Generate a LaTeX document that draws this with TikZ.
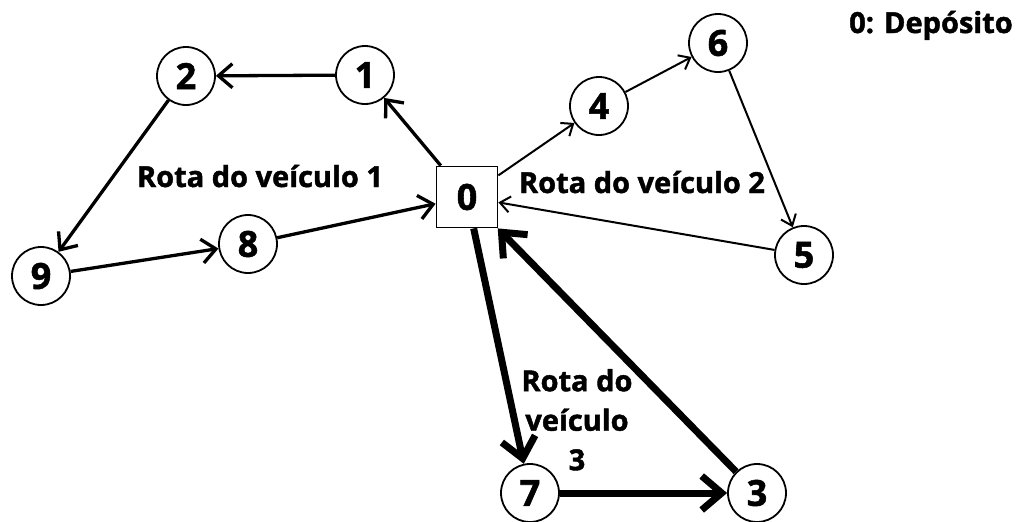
\documentclass[tikz,border=0pt]{standalone}
\usepackage{fontspec}
\setmainfont{Open Sans}[BoldFeatures={FakeBold=1.5}]
\usetikzlibrary{arrows.meta}
\begin{document}
\begin{tikzpicture}[x=1pt,y=-1pt,
  num/.style={circle,draw,line width=1.8pt,minimum size=58pt,inner sep=0pt,font=\fontsize{36}{36}\selectfont\bfseries},
  depot/.style={rectangle,draw,line width=1.8pt,minimum size=61pt,inner sep=0pt,font=\fontsize{36}{36}\selectfont\bfseries},
  lbl/.style={font=\fontsize{29}{39.5}\selectfont\bfseries,inner sep=0pt,anchor=base},
  ethin/.style={line width=2pt,-{Straight Barb[length=10pt,width=16pt]}},
  emid/.style={line width=3.3pt,-{Straight Barb[length=14pt,width=24pt]}},
  ethick/.style={line width=7pt,-{Straight Barb[length=20pt,width=34pt]}}]
\useasboundingbox (0,0) rectangle (1018,522);
\node[depot] (n0) at (467,197) {0};
\node[num] (n1) at (365,75) {1};
\node[num] (n2) at (186,76) {2};
\node[num] (n4) at (599,106) {4};
\node[num] (n6) at (718,43) {6};
\node[num] (n5) at (804,255) {5};
\node[num] (n9) at (41,276) {9};
\node[num] (n8) at (248,244) {8};
\node[num] (n7) at (530,493) {7};
\node[num] (n3) at (757,493) {3};
\node[lbl] (l1) at (260,187) {Rota do veículo 1};
\node[lbl] (l2) at (642,193) {Rota do veículo 2};
\node[lbl,align=center,anchor=north] (l3) at (577,369) {Rota do\\veículo\\3};
\node[lbl] (dep) at (931,33) {0: Depósito};
\draw[emid] (n0) -- (n1);
\draw[emid] (n1) -- (n2);
\draw[emid] (n2) -- (n9);
\draw[emid] (n9) -- (n8);
\draw[emid] (n8) -- (n0);
\draw[ethin] (n0) -- (n4);
\draw[ethin] (n4) -- (n6);
\draw[ethin] (n6) -- (n5);
\draw[ethin] (n5) -- (n0);
\draw[ethick] (n0) -- (n7);
\draw[ethick] (n7) -- (n3);
\draw[ethick] (n3) -- (n0);
\end{tikzpicture}
\end{document}
